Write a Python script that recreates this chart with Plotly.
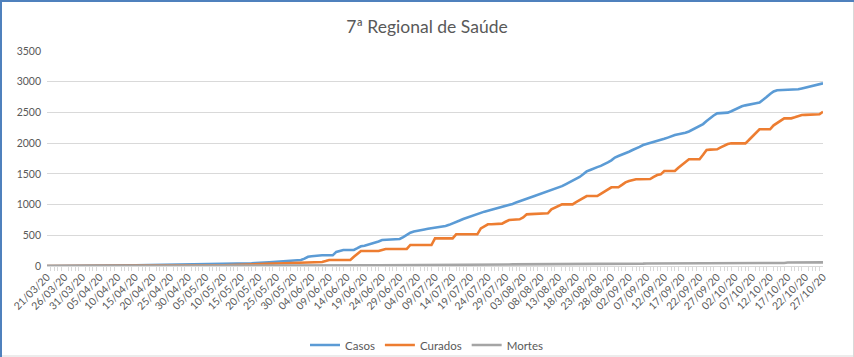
import pandas as pd
import plotly.graph_objects as go

# Daily dates 21/03/20 .. 27/10/20
dates = pd.date_range("2020-03-21", "2020-10-27", freq="D")

casos = [
    0, 1, 1, 2, 2, 3, 4, 5, 6, 6,
    7, 7, 8, 8, 9, 9, 9, 10, 10, 10,
    11, 11, 11, 12, 12, 12, 13, 13, 14, 14,
    14, 15, 15, 15, 16, 16, 17, 17, 18, 18,
    18, 19, 19, 20, 20, 21, 22, 22, 23, 24,
    25, 26, 28, 30, 32, 35, 38, 40, 44, 48,
    54, 56, 58, 62, 65, 68, 70, 75, 80, 87,
    90, 95, 98, 120, 150, 160, 168, 174, 174, 174,
    174, 174, 230, 250, 260, 260, 260, 262, 290, 320,
    330, 345, 369, 385, 400, 423, 428, 432, 436, 438,
    440, 470, 510, 543, 560, 575, 586, 595, 605, 613,
    620, 630, 640, 651, 670, 690, 715, 740, 765, 787,
    805, 825, 850, 870, 885, 900, 915, 930, 945, 955,
    970, 990, 1010, 1035, 1058, 1075, 1095, 1115, 1135, 1156,
    1175, 1195, 1215, 1240, 1253, 1270, 1300, 1330, 1360, 1380,
    1410, 1450, 1492, 1540, 1563, 1590, 1610, 1630, 1655, 1688,
    1720, 1765, 1790, 1810, 1835, 1860, 1888, 1910, 1940, 1970,
    1985, 2000, 2020, 2035, 2051, 2070, 2090, 2115, 2132, 2145,
    2155, 2170, 2190, 2220, 2250, 2270, 2310, 2360, 2410, 2450,
    2485, 2490, 2494, 2496, 2520, 2550, 2580, 2600, 2615, 2630,
    2640, 2650, 2662, 2700, 2750, 2800, 2840, 2860, 2862, 2864,
    2866, 2868, 2870, 2876, 2890, 2905, 2920, 2930, 2945, 2960,
    2974,
]

curados = [
    0, 0, 0, 0, 0, 0, 0, 0, 0, 0,
    0, 0, 0, 0, 0, 0, 0, 0, 0, 0,
    0, 0, 0, 0, 0, 0, 0, 3, 3, 3,
    3, 3, 4, 4, 4, 5, 5, 5, 5, 6,
    6, 6, 7, 7, 8, 8, 9, 10, 11, 12,
    13, 14, 15, 16, 17, 18, 20, 22, 24, 26,
    28, 30, 33, 36, 38, 40, 42, 43, 45, 48,
    52, 56, 60, 64, 65, 65, 65, 65, 65, 80,
    98, 98, 98, 98, 98, 98, 98, 150, 200, 244,
    244, 244, 244, 244, 244, 262, 277, 277, 277, 277,
    277, 277, 277, 342, 342, 342, 342, 342, 342, 342,
    450, 450, 450, 450, 450, 450, 516, 516, 516, 516,
    516, 516, 516, 613, 650, 679, 679, 679, 679, 690,
    720, 749, 752, 756, 760, 790, 841, 845, 850, 855,
    858, 858, 858, 923, 950, 980, 1004, 1004, 1004, 1004,
    1040, 1074, 1110, 1139, 1139, 1139, 1139, 1175, 1210, 1245,
    1281, 1281, 1281, 1320, 1362, 1385, 1400, 1411, 1413, 1415,
    1416, 1416, 1450, 1481, 1492, 1546, 1546, 1546, 1546, 1600,
    1644, 1690, 1737, 1737, 1737, 1737, 1810, 1888, 1894, 1897,
    1900, 1930, 1960, 1985, 1997, 1997, 1997, 1997, 1997, 2051,
    2110, 2160, 2225, 2225, 2225, 2225, 2290, 2333, 2370, 2404,
    2404, 2404, 2420, 2440, 2458, 2460, 2462, 2465, 2467, 2469,
    2512,
]

mortes = [
    0, 0, 0, 0, 0, 0, 0, 0, 0, 0,
    0, 0, 0, 0, 0, 0, 0, 0, 0, 0,
    0, 0, 0, 0, 0, 0, 0, 0, 0, 0,
    0, 0, 0, 0, 0, 0, 0, 0, 0, 0,
    0, 0, 0, 0, 0, 0, 0, 0, 0, 0,
    0, 0, 0, 0, 0, 0, 0, 0, 0, 0,
    1, 1, 1, 1, 1, 1, 2, 2, 2, 2,
    2, 2, 3, 3, 3, 3, 3, 3, 4, 4,
    4, 4, 5, 5, 10, 10, 10, 11, 11, 11,
    12, 12, 12, 12, 13, 13, 13, 13, 14, 14,
    14, 14, 15, 15, 15, 15, 16, 16, 16, 16,
    17, 17, 17, 17, 18, 18, 18, 18, 19, 19,
    19, 20, 20, 20, 20, 21, 21, 21, 22, 22,
    25, 25, 26, 26, 26, 27, 27, 27, 28, 28,
    28, 29, 29, 29, 30, 30, 30, 31, 31, 31,
    32, 32, 32, 33, 33, 33, 34, 34, 34, 35,
    35, 35, 36, 36, 36, 37, 37, 37, 38, 38,
    40, 40, 40, 41, 41, 41, 42, 42, 42, 42,
    43, 43, 43, 43, 44, 44, 44, 44, 45, 45,
    45, 45, 46, 46, 46, 46, 47, 47, 47, 47,
    48, 48, 48, 48, 49, 49, 49, 49, 50, 50,
    56, 56, 57, 57, 57, 58, 58, 58, 59, 59,
    59,
]

series_names = ["Casos", "Curados", "Mortes"]
series_colors = ["#5B9BD5", "#ED7D31", "#A5A5A5"]
y_ticks = [0, 500, 1000, 1500, 2000, 2500, 3000, 3500]
title_text = "7ª Regional de Saúde"

FONT = "Lato, 'Open Sans', sans-serif"
TXT = "#595959"

fig = go.Figure()
for name, vals, col in zip(series_names, [casos, curados, mortes], series_colors):
    fig.add_trace(go.Scatter(
        x=dates, y=vals, mode="lines", name=name,
        line=dict(color=col, width=2.6), hoverinfo="x+y+name",
    ))

# plot area pixel geometry
W, H = 854, 357
L, R, T, B = 47, 31, 51, 91
pw, ph = W - L - R, H - T - B


def px(x):
    return (x - L) / pw


def py(y):
    return (H - B - y) / ph


shapes = [
    dict(type="line", xref="paper", yref="paper", x0=px(1), x1=px(1), y0=py(0), y1=py(357),
         line=dict(color="#4F81BD", width=2)),
    dict(type="line", xref="paper", yref="paper", x0=px(0), x1=px(854), y0=py(1), y1=py(1),
         line=dict(color="#4F81BD", width=2)),
    dict(type="line", xref="paper", yref="paper", x0=px(853.5), x1=px(853.5), y0=py(2), y1=py(357),
         line=dict(color="#D9D9D9", width=1)),
    dict(type="line", xref="paper", yref="paper", x0=px(2), x1=px(854), y0=py(356), y1=py(356),
         line=dict(color="#D9D9D9", width=1)),
]

fig.update_layout(
    width=W, height=H,
    margin=dict(l=L, r=R, t=T, b=B, autoexpand=False),
    paper_bgcolor="white", plot_bgcolor="white",
    font=dict(family=FONT, color=TXT, size=11),
    title=dict(text=title_text, x=0.5, xref="container", xanchor="center",
               y=1 - 27 / H, yanchor="middle", yref="container",
               font=dict(family=FONT, size=17.5, color=TXT)),
    showlegend=True,
    legend=dict(orientation="h", x=(427 - L) / pw, xanchor="center", xref="paper",
                y=-(345 - (H - B)) / ph, yanchor="middle",
                font=dict(family=FONT, size=11.5, color=TXT),
                itemwidth=30, traceorder="normal", bgcolor="rgba(0,0,0,0)"),
    shapes=shapes,
    hovermode="x",
)

fig.update_xaxes(
    type="date", automargin=False,
    range=[dates[0], dates[-1]],
    tick0=dates[0], dtick=5 * 86400000,
    tickformat="%d/%m/%y", tickangle=-45,
    tickfont=dict(family=FONT, size=10.5, color=TXT),
    showgrid=False, showline=True, linecolor="#D9D9D9", linewidth=1,
    ticks="", zeroline=False,
    minor=dict(ticks="outside", dtick=86400000, tick0=dates[0], ticklen=4,
               tickcolor="#D9D9D9", tickwidth=1, showgrid=False),
)
fig.update_yaxes(
    automargin=False,
    range=[0, 3500], tickvals=y_ticks,
    tickfont=dict(family=FONT, size=10.5, color=TXT),
    showgrid=True, gridcolor="#D9D9D9", gridwidth=1,
    zeroline=False, showline=False, ticks="", ticklabelstandoff=5,
)

fig.write_html(
    "out.html",
    config={"displayModeBar": False},
    post_script="document.body.style.margin='0';document.body.style.padding='0';"
                "document.body.style.overflow='hidden';",
)
